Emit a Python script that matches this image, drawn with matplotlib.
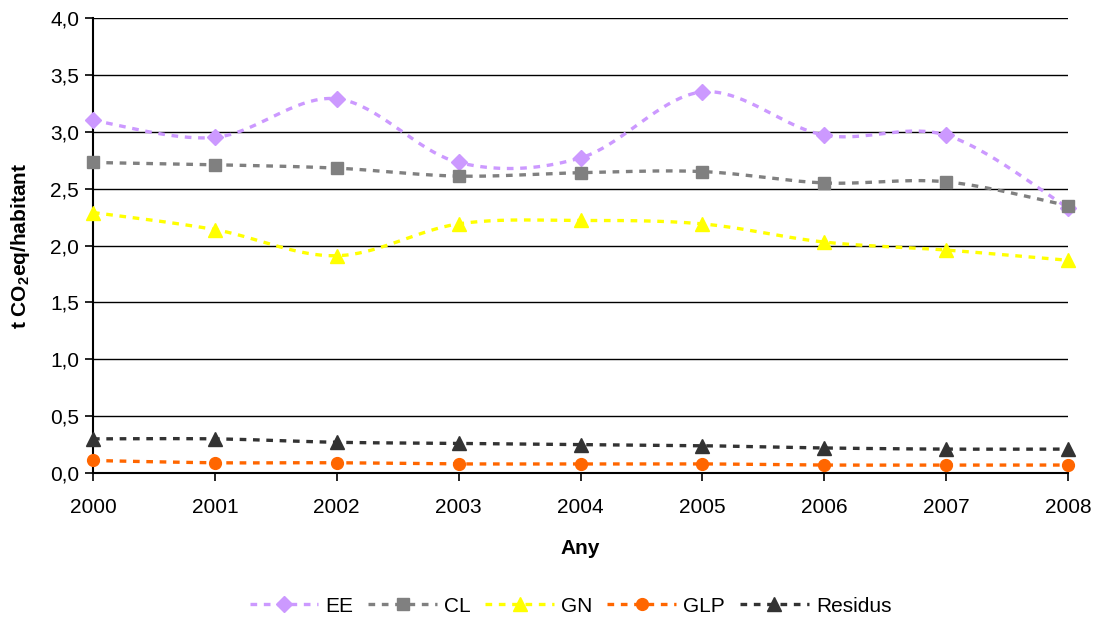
import numpy as np
import matplotlib
matplotlib.use("Agg")
import matplotlib.pyplot as plt
from matplotlib.ticker import FuncFormatter

years = [2000, 2001, 2002, 2003, 2004, 2005, 2006, 2007, 2008]
ee = [3.10, 2.95, 3.29, 2.73, 2.77, 3.35, 2.97, 2.97, 2.33]
cl = [2.73, 2.71, 2.68, 2.61, 2.64, 2.65, 2.55, 2.56, 2.35]
gn = [2.29, 2.14, 1.91, 2.19, 2.22, 2.19, 2.03, 1.96, 1.87]
glp = [0.11, 0.09, 0.09, 0.08, 0.08, 0.08, 0.07, 0.07, 0.07]
residus = [0.30, 0.30, 0.27, 0.26, 0.25, 0.24, 0.22, 0.21, 0.21]

series = [
    ("EE", ee, "#CC99FF", "D", 8.5),
    ("CL", cl, "#808080", "s", 8.5),
    ("GN", gn, "#FFFF00", "^", 9.5),
    ("GLP", glp, "#FF6600", "o", 8.5),
    ("Residus", residus, "#333333", "^", 9.5),
]

plt.rcParams["font.family"] = ["Liberation Sans", "DejaVu Sans"]
FS = 15


def smooth(x, y, n=40):
    """Catmull-Rom style smoothing through every data point."""
    x = np.asarray(x, float)
    y = np.asarray(y, float)
    px = np.concatenate([[x[0]], x, [x[-1]]])
    py = np.concatenate([[y[0]], y, [y[-1]]])
    xs, ys = [], []
    for i in range(1, len(px) - 2):
        p0 = np.array([px[i - 1], py[i - 1]])
        p1 = np.array([px[i], py[i]])
        p2 = np.array([px[i + 1], py[i + 1]])
        p3 = np.array([px[i + 2], py[i + 2]])
        c1 = p1 + (p2 - p0) / 6.0
        c2 = p2 - (p3 - p1) / 6.0
        t = np.linspace(0, 1, n)[:, None]
        b = ((1 - t) ** 3) * p1 + 3 * ((1 - t) ** 2) * t * c1 + 3 * (1 - t) * t ** 2 * c2 + t ** 3 * p2
        if i > 1:
            b = b[1:]
        xs.append(b[:, 0])
        ys.append(b[:, 1])
    return np.concatenate(xs), np.concatenate(ys)


fig = plt.figure(figsize=(10.97, 6.21), dpi=100)
ax = fig.add_axes([93 / 1097, 1 - 473 / 621, (1068 - 93) / 1097, (473 - 18) / 621])

dash = (0, (2.0, 2.0))
handles = []
for name, vals, color, marker, ms in series:
    sx, sy = smooth(years, vals)
    ax.plot(sx, sy, color=color, lw=2.4, linestyle=dash,
            dash_capstyle="butt", zorder=3)
    ax.plot(years, vals, linestyle="none", marker=marker, ms=ms, color=color,
            markeredgecolor=color, zorder=4, clip_on=False)
    h, = ax.plot([], [], color=color, lw=2.4, linestyle=dash,
                 marker=marker, ms=ms, markeredgecolor=color)
    handles.append((h, name))

ax.set_xlim(2000, 2008)
ax.set_ylim(0, 4)
ax.set_xticks(years)
ax.set_yticks(np.arange(0, 4.01, 0.5))
ax.yaxis.set_major_formatter(FuncFormatter(lambda v, p: f"{v:.1f}".replace(".", ",")))
ax.grid(axis="y", color="black", lw=1)
ax.set_axisbelow(True)
for s in ["top", "right"]:
    ax.spines[s].set_visible(False)
for s in ["left", "bottom"]:
    ax.spines[s].set_color("black")
    ax.spines[s].set_linewidth(1.5)
ax.tick_params(axis="both", direction="out", length=6, width=1.2, labelsize=FS, colors="black")
ax.tick_params(axis="x", pad=12)
ax.tick_params(axis="y", pad=4)

ax.set_xlabel("Any", fontsize=FS, fontweight="bold")
ax.xaxis.set_label_coords(0.5, -(548 - 473) / 455, transform=ax.transAxes)
ax.set_ylabel(r"t CO$_\mathregular{2}$eq/habitant", fontsize=FS, fontweight="bold")
ax.yaxis.set_label_coords(-(93 - 20) / 975, 0.5, transform=ax.transAxes)
ax.xaxis.label.set_va("center")
ax.yaxis.label.set_va("center")

fig.legend([h for h, _ in handles], [n for _, n in handles], loc="center",
           bbox_to_anchor=(0.52, 1 - 606 / 621), ncol=5, frameon=False,
           fontsize=FS, handlelength=3.3, handletextpad=0.35, columnspacing=0.7)

fig.savefig("out.png", dpi=100, facecolor="white")
